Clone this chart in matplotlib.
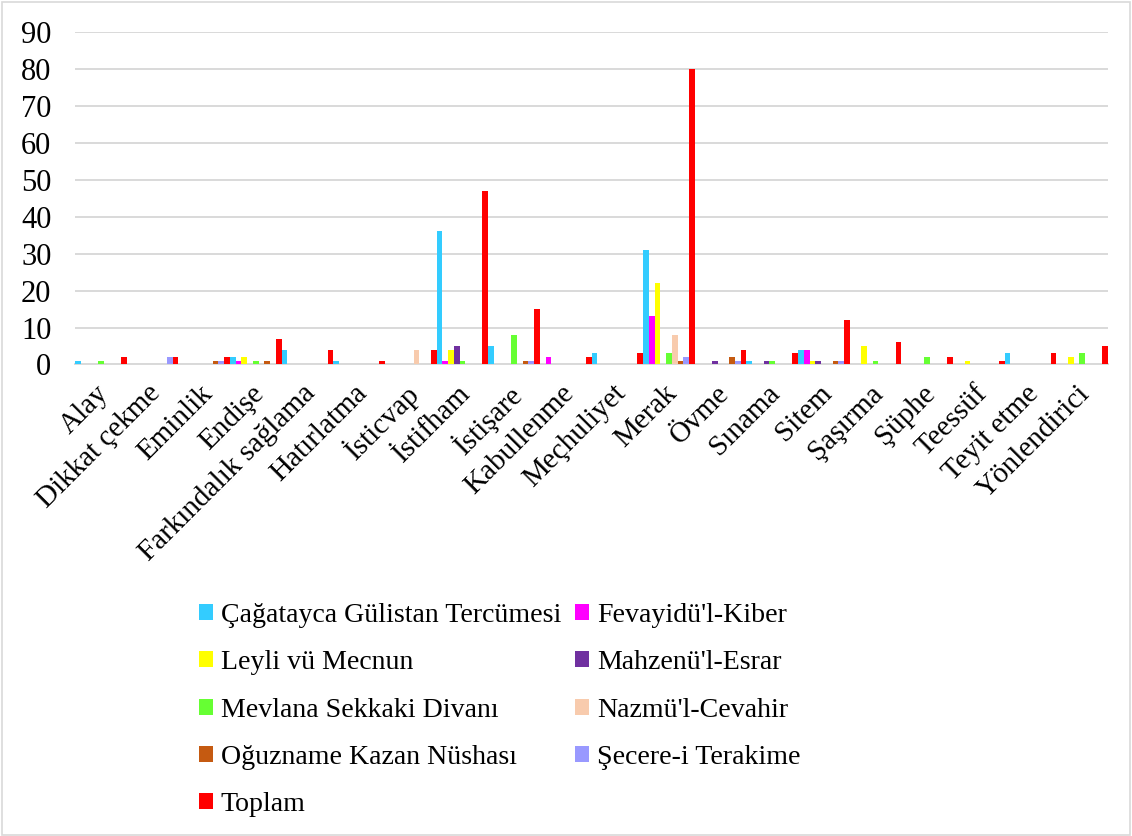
import matplotlib
matplotlib.use("Agg")
import matplotlib.pyplot as plt
from matplotlib.patches import Rectangle
import matplotlib.transforms as mtransforms
import numpy as np

plt.rcParams['font.family'] = ['Liberation Serif', 'DejaVu Serif']

categories = ["Alay", "Dikkat çekme", "Eminlik", "Endişe", "Farkındalık sağlama",
              "Hatırlatma", "İsticvap", "İstifham", "İstişare", "Kabullenme",
              "Meçhuliyet", "Merak", "Övme", "Sınama", "Sitem", "Şaşırma",
              "Şüphe", "Teessüf", "Teyit etme", "Yönlendirici"]

cagatayca = [1, 0, 0, 2, 4, 1, 0, 36, 5, 0, 3, 31, 0, 1, 4, 0, 0, 0, 3, 0]
fevayidu = [0, 0, 0, 1, 0, 0, 0, 1, 0, 2, 0, 13, 0, 0, 4, 0, 0, 0, 0, 0]
leyli = [0, 0, 0, 2, 0, 0, 0, 4, 0, 0, 0, 22, 0, 0, 1, 5, 0, 1, 0, 2]
mahzenu = [0, 0, 0, 0, 0, 0, 0, 5, 0, 0, 0, 0, 1, 1, 1, 0, 0, 0, 0, 0]
mevlana = [1, 0, 0, 1, 0, 0, 0, 1, 8, 0, 0, 3, 0, 1, 0, 1, 2, 0, 0, 3]
nazmu = [0, 0, 0, 0, 0, 0, 4, 0, 0, 0, 0, 8, 0, 0, 0, 0, 0, 0, 0, 0]
oguzname = [0, 0, 1, 1, 0, 0, 0, 0, 1, 0, 0, 1, 2, 0, 1, 0, 0, 0, 0, 0]
secere = [0, 2, 1, 0, 0, 0, 0, 0, 1, 0, 0, 2, 1, 0, 1, 0, 0, 0, 0, 0]
toplam = [2, 2, 2, 7, 4, 1, 4, 47, 15, 2, 3, 80, 4, 3, 12, 6, 2, 1, 3, 5]

series_names = ["Çağatayca Gülistan Tercümesi", "Fevayidü'l-Kiber", "Leyli vü Mecnun",
                "Mahzenü'l-Esrar", "Mevlana Sekkaki Divanı", "Nazmü'l-Cevahir",
                "Oğuzname Kazan Nüshası", "Şecere-i Terakime", "Toplam"]
series_values = [cagatayca, fevayidu, leyli, mahzenu, mevlana, nazmu, oguzname, secere, toplam]
colors = ["#33CCFF", "#FF00FF", "#FFFF00", "#7030A0", "#66FF33", "#F8CBAD",
          "#C55A11", "#9999FF", "#FF0000"]

W, H = 1132, 836
fig = plt.figure(figsize=(W / 100, H / 100), dpi=100)
ax = fig.add_axes([75 / W, 1 - 364.5 / H, (1108 - 75) / W, (364.5 - 32) / H])

n = len(series_values)
bw = 1.0 / n
x = np.arange(len(categories))
bars = []
for k, (name, vals, col) in enumerate(zip(series_names, series_values, colors)):
    b = ax.bar(x - 0.5 + bw * (k + 0.5), vals, width=bw, color=col, label=name,
               linewidth=0, zorder=3)
    bars.append(b)

ax.set_xlim(-0.5, len(categories) - 0.5)
ax.set_ylim(0, 90)
ax.set_yticks(np.arange(0, 91, 10))
ax.yaxis.grid(True, color="#D9D9D9", linewidth=1.4, zorder=0)
ax.set_axisbelow(True)
for s in ["left", "right", "top"]:
    ax.spines[s].set_visible(False)
ax.spines["bottom"].set_color("#D9D9D9")
ax.spines["bottom"].set_linewidth(1.4)
ax.tick_params(axis="both", length=0)
ax.tick_params(axis="y", pad=17, labelsize=22)
ax.set_xticks(x)
ax.set_xticklabels(categories, rotation=45, ha="right", va="center",
                   rotation_mode="anchor", fontsize=21)
ax.tick_params(axis="x", pad=18)
shift = mtransforms.ScaledTranslation(4 / 100, 0, fig.dpi_scale_trans)
for lbl in ax.get_xticklabels():
    lbl.set_transform(lbl.get_transform() + shift)

# two columns filled row by row
order = [0, 2, 4, 6, 8, 1, 3, 5, 7]
fig.legend([bars[i] for i in order], [series_names[i] for i in order],
           loc="upper left", bbox_to_anchor=(199 / W, 1 - 603 / H),
           ncol=2, frameon=False, fontsize=20.1, handlelength=0.5,
           handleheight=0.5, handletextpad=0.28, columnspacing=0.5,
           labelspacing=0.8, borderpad=0, borderaxespad=0)

fig.patches.append(Rectangle((2 / W, 1 / H), (W - 4) / W, (H - 3) / H,
                             transform=fig.transFigure, fill=False,
                             edgecolor="#D9D9D9", linewidth=1.2))

fig.savefig("out.png", dpi=100, facecolor="white")
